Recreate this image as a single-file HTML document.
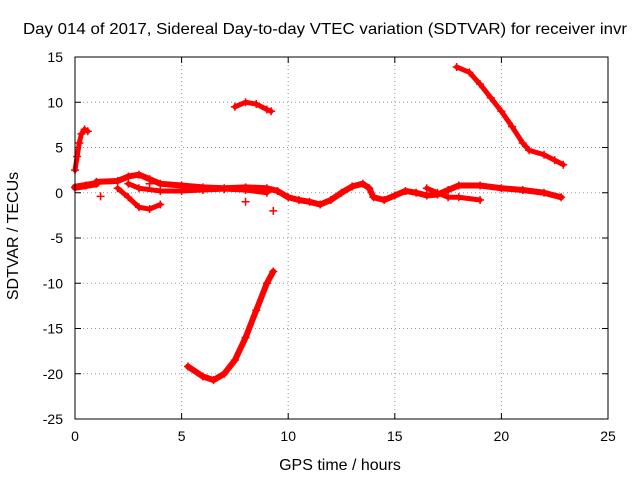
<!DOCTYPE html>
<html><head><meta charset="utf-8"><style>
body{margin:0;background:#fff}
svg{display:block;font-family:"Liberation Sans",sans-serif}
</style></head><body>
<svg id="chart" width="640" height="480" viewBox="0 0 640 480">
<text x="325" y="34" font-size="16" text-anchor="middle" textLength="604" lengthAdjust="spacingAndGlyphs">Day 014 of 2017, Sidereal Day-to-day VTEC variation (SDTVAR) for receiver invr</text>
<text x="340" y="470" font-size="16" text-anchor="middle">GPS time / hours</text>
<text transform="translate(18,236) rotate(-90)" font-size="16" text-anchor="middle">SDTVAR / TECUs</text>
<g id="grid"></g><g id="ticks"></g><g id="marks"></g>
<rect x="75" y="57" width="533" height="362" fill="none" stroke="#000" stroke-width="1"/>
</svg>
<script>
const xTicks=[0,5,10,15,20,25];
const yTicks=[15,10,5,0,-5,-10,-15,-20,-25];
const segRise=[[0,2.5],[0.1,4],[0.2,5.5],[0.3,6.5],[0.45,7],[0.6,6.8]];
const segStart=[[0,0.6],[0.5,0.8],[1,1]];
const segMain=[[1,1.2],[2,1.3],[2.5,1.8],[3,2],[3.5,1.5],[4,1],[5,0.8],[6,0.6],[7,0.5],[8,0.6],[9,0.5],[9.5,0.2],[10,-0.5],[10.5,-0.8],[11,-1],[11.5,-1.3],[12,-0.8],[12.5,0],[13,0.7],[13.5,1],[13.8,0.5],[14,-0.5],[14.5,-0.8],[15,-0.3],[15.5,0.2],[16,0],[16.5,-0.3],[17,-0.2],[17.5,0.3],[18,0.8],[19,0.8],[20,0.5],[21,0.3],[22,0],[22.8,-0.5]];
const segLower=[[2,0.5],[2.5,-0.5],[3,-1.6],[3.5,-1.8],[4,-1.3]];
const segSecond=[[2.5,1],[3,0.5],[4,0.2],[5,0.2],[6,0.3],[7,0.4],[8,0.3],[9,0]];
const segLoop=[[16.5,0.5],[17,0],[17.5,-0.5],[18,-0.5],[19,-0.8]];
const segArc=[[7.5,9.5],[8,10],[8.5,9.8],[9,9.2],[9.2,9]];
const segDeep=[[5.3,-19.2],[6,-20.3],[6.5,-20.7],[7,-20],[7.5,-18.5],[8,-16],[8.5,-13],[9,-10],[9.3,-8.7]];
const segDrop=[[17.9,13.9],[18.5,13.3],[19,12],[19.5,10.5],[20,9],[20.5,7.3],[21,5.5],[21.3,4.7],[22,4.2],[22.5,3.6],[22.9,3.1]];
const outliers=[[1.2,-0.4],[9.3,-2],[8,-1],[3.5,1]];
const NS="http://www.w3.org/2000/svg";
const X=v=>75+v*(533/25), Y=v=>419-(v+25)*(362/40);
const grid=document.getElementById('grid'),ticks=document.getElementById('ticks'),marks=document.getElementById('marks');
function mk(t,a,p){const e=document.createElementNS(NS,t);for(const k in a)e.setAttribute(k,a[k]);p.appendChild(e);return e;}
xTicks.forEach(v=>{const x=X(v);
 if(v>0&&v<25){const g=mk('line',{x1:x,x2:x,y1:57,y2:419,stroke:'#999','stroke-dasharray':'1,3'},grid);
 
 }
 mk('line',{x1:x,x2:x,y1:419,y2:413,stroke:'#000'},ticks);mk('line',{x1:x,x2:x,y1:57,y2:63,stroke:'#000'},ticks);
 const t=mk('text',{x:x,y:441,'font-size':14,'text-anchor':'middle'},ticks);t.textContent=v;
 
 });
yTicks.forEach(v=>{const y=Y(v);
 if(v>-25&&v<15){const g=mk('line',{x1:75,x2:608,y1:y,y2:y,stroke:'#999','stroke-dasharray':'1,3'},grid);
 
 }
 mk('line',{x1:75,x2:81,y1:y,y2:y,stroke:'#000'},ticks);mk('line',{x1:608,x2:602,y1:y,y2:y,stroke:'#000'},ticks);
 const t=mk('text',{x:63,y:y+5,'font-size':14,'text-anchor':'end'},ticks);t.textContent=v;
 
 });
function series(pts,name,w){
 const p=mk('polyline',{points:pts.map(q=>X(q[0])+','+Y(q[1])).join(' '),fill:'none',stroke:'#f00','stroke-width':w,'stroke-linejoin':'round','stroke-linecap':'round'},marks);
 
 
 pts.forEach(q=>plus(q,name+'-point'));}
function plus(q,name){const x=X(q[0]),y=Y(q[1]);
 const g=mk('path',{d:`M${x-4},${y}h8M${x},${y-4}v8`,stroke:'#f00','stroke-width':1.5},marks);
 
 }
series(segRise,'series-early-rise',5);
series(segStart,'series-start-band',7);
series(segMain,'series-main-band',6);
series(segLower,'series-lower-branch',5);
series(segSecond,'series-second-band',5);
series(segLoop,'series-loop',5);
series(segArc,'series-upper-arc',5);
series(segDeep,'series-deep-curve',6);
series(segDrop,'series-right-drop',5);
outliers.forEach(q=>plus(q,'outlier-point'));
</script>
</body></html>
